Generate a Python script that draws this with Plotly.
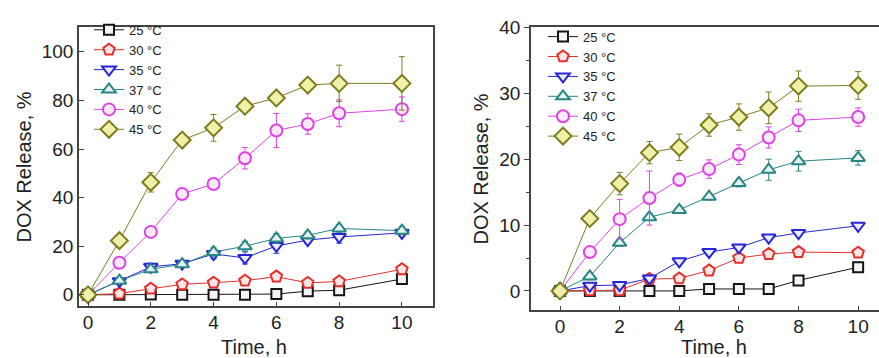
import plotly.graph_objects as go

time_h = [0, 1, 2, 3, 4, 5, 6, 7, 8, 10]
labels = ["25 °C", "30 °C", "35 °C", "37 °C", "40 °C", "45 °C"]

# Left panel values (%)
left_25 = [0, 0, 0.1, 0, 0, 0, 0.3, 1.5, 1.9, 6.5]
left_30 = [0, 0.5, 2.5, 4.3, 5.0, 5.8, 7.5, 4.9, 5.5, 10.5]
left_35 = [0, 5.6, 11.5, 12.8, 16.8, 15.2, 20.1, 22.5, 23.8, 25.5]
left_37 = [0, 5.8, 10.5, 12.6, 17.6, 20.0, 23.2, 24.5, 27.3, 26.4]
left_40 = [0, 13.2, 25.9, 41.5, 45.6, 56.2, 67.6, 70.3, 74.7, 76.4]
left_45 = [0, 22.3, 46.3, 63.7, 68.7, 77.6, 81.0, 86.3, 87.0, 87.0]
left_err_25 = [0, 0.3, 0.3, 0.3, 0.3, 0.3, 0.3, 0.5, 0.5, 1.0]
left_err_30 = [0, 0.5, 1.0, 1.0, 1.0, 1.0, 1.0, 1.0, 1.0, 1.0]
left_err_35 = [0, 1.0, 1.5, 1.0, 2.0, 2.5, 3.0, 1.5, 2.5, 1.5]
left_err_37 = [0, 1.0, 1.0, 1.0, 2.0, 2.0, 2.0, 1.5, 1.5, 1.5]
left_err_40 = [0, 1.0, 1.5, 1.5, 1.5, 4.4, 7.0, 4.2, 5.5, 5.0]
left_err_45 = [0, 1.5, 4.0, 1.5, 5.5, 1.5, 2.0, 1.5, 7.5, 11.0]

# Right panel values (%)
right_25 = [0, 0, 0, 0, 0, 0.3, 0.3, 0.3, 1.6, 3.6]
right_30 = [0, 0.1, 0.1, 1.8, 1.9, 3.1, 5.0, 5.6, 5.9, 5.8]
right_35 = [0, 0.8, 0.9, 1.9, 4.5, 5.9, 6.6, 8.1, 8.8, 9.9]
right_37 = [0, 2.2, 7.3, 11.2, 12.3, 14.3, 16.4, 18.4, 19.7, 20.2]
right_40 = [0, 5.9, 10.9, 14.1, 16.9, 18.5, 20.7, 23.3, 25.9, 26.4]
right_45 = [0, 11.0, 16.3, 21.0, 21.8, 25.2, 26.4, 27.8, 31.1, 31.2]
right_err_25 = [0, 0.2, 0.2, 0.2, 0.2, 0.2, 0.2, 0.2, 0.3, 0.3]
right_err_30 = [0, 0.2, 0.2, 0.3, 0.3, 0.3, 0.3, 0.3, 0.3, 0.3]
right_err_35 = [0, 0.3, 0.3, 0.3, 0.3, 0.3, 0.3, 0.3, 0.3, 0.3]
right_err_37 = [0, 0.5, 0.5, 0.5, 0.5, 0.5, 0.6, 1.6, 1.5, 1.1]
right_err_40 = [0, 0.5, 3.0, 4.1, 1.0, 1.4, 1.5, 1.6, 1.7, 1.4]
right_err_45 = [0, 0.8, 1.7, 1.7, 2.0, 1.7, 2.0, 2.4, 2.3, 2.1]

x_title = "Time, h"
y_title = "DOX Release, %"

line_colors = ["#151515", "#e3302c", "#2626d8", "#2a8585", "#de42e6", "#7d7d1f"]
fill_colors = ["#f4f4f4", "#fce6e6", "#ececfc", "#e6f2f2", "#fceafc", "#f0f0a8"]
symbols = ["square", "pentagon", "triangle-down", "triangle-up", "circle", "diamond"]
sizes = [10, 12, 12, 12, 12, 13]

left_vals = [left_25, left_30, left_35, left_37, left_40, left_45]
left_errs = [left_err_25, left_err_30, left_err_35, left_err_37, left_err_40, left_err_45]
right_vals = [right_25, right_30, right_35, right_37, right_40, right_45]
right_errs = [right_err_25, right_err_30, right_err_35, right_err_37, right_err_40, right_err_45]

FONT = "Liberation Sans, Arial, sans-serif"
fig = go.Figure()

for i in range(6):
    fig.add_trace(go.Scatter(
        x=time_h, y=left_vals[i], name=labels[i], mode="lines+markers",
        xaxis="x", yaxis="y", legend="legend",
        line=dict(color=line_colors[i], width=1),
        marker=dict(symbol=symbols[i], size=sizes[i], color=fill_colors[i],
                    line=dict(color=line_colors[i], width=2)),
        error_y=dict(type="data", array=left_errs[i], visible=True,
                     color=line_colors[i], thickness=1, width=3),
    ))

for i in range(6):
    fig.add_trace(go.Scatter(
        x=time_h, y=right_vals[i], name=labels[i], mode="lines+markers",
        xaxis="x2", yaxis="y2", legend="legend2",
        line=dict(color=line_colors[i], width=1),
        marker=dict(symbol=symbols[i], size=sizes[i], color=fill_colors[i],
                    line=dict(color=line_colors[i], width=2)),
        error_y=dict(type="data", array=right_errs[i], visible=True,
                     color=line_colors[i], thickness=1, width=3),
    ))

W, H = 879, 358
axis_common = dict(showgrid=False, zeroline=False, showline=True,
                   linecolor="#444444", linewidth=1.5,
                   tickfont=dict(family=FONT, size=19, color="#222222"),
                   ticklen=5, tickwidth=1, tickcolor="#444444")

fig.update_layout(
    width=W, height=H,
    margin=dict(l=0, r=0, t=0, b=0),
    paper_bgcolor="white", plot_bgcolor="white",
    font=dict(family=FONT, color="#222222"),
    xaxis=dict(domain=[79 / W, 433 / W], range=[-0.287, 10.99], anchor="y",
               tickvals=[0, 2, 4, 6, 8, 10], ticks="inside", mirror=True,
               ticklabelstandoff=-2, **axis_common),
    yaxis=dict(domain=[(H - 305) / H, (H - 18) / H], range=[-4.8, 110], anchor="x",
               tickvals=[0, 20, 40, 60, 80, 100], ticks="inside", mirror=True,
               title=dict(text=y_title, font=dict(family=FONT, size=20), standoff=5),
               **axis_common),
    xaxis2=dict(domain=[531 / W, 1.0], range=[-0.973, 10.70], anchor="y2",
                tickvals=[0, 2, 4, 6, 8, 10], ticks="inside", mirror=True,
                ticklabelstandoff=-2, **axis_common),
    yaxis2=dict(domain=[(H - 309) / H, (H - 18) / H], range=[-2.95, 40], anchor="x2",
                tickvals=[0, 10, 20, 30, 40], ticks="outside", mirror=False,
                minor=dict(tickvals=[5, 15, 25, 35], ticks="outside", ticklen=3, tickcolor="#444444"),
                title=dict(text=y_title, font=dict(family=FONT, size=20), standoff=5),
                **axis_common),
    legend=dict(x=89 / W, y=(H - 5) / H, xanchor="left", yanchor="top",
                bgcolor="rgba(0,0,0,0)", font=dict(family=FONT, size=13, color="#222222"),
                tracegroupgap=0),
    legend2=dict(x=543 / W, y=(H - 12) / H, xanchor="left", yanchor="top",
                 bgcolor="rgba(0,0,0,0)", font=dict(family=FONT, size=13, color="#222222"),
                 tracegroupgap=0),
    annotations=[
        dict(text=x_title, x=254 / W, y=0, xref="paper", yref="paper",
             xanchor="center", yanchor="bottom", showarrow=False, yshift=-2,
             font=dict(family=FONT, size=20, color="#222222")),
        dict(text=x_title, x=714 / W, y=0, xref="paper", yref="paper",
             xanchor="center", yanchor="bottom", showarrow=False, yshift=-2,
             font=dict(family=FONT, size=20, color="#222222")),
    ],
)

fig.write_html("out.html")
